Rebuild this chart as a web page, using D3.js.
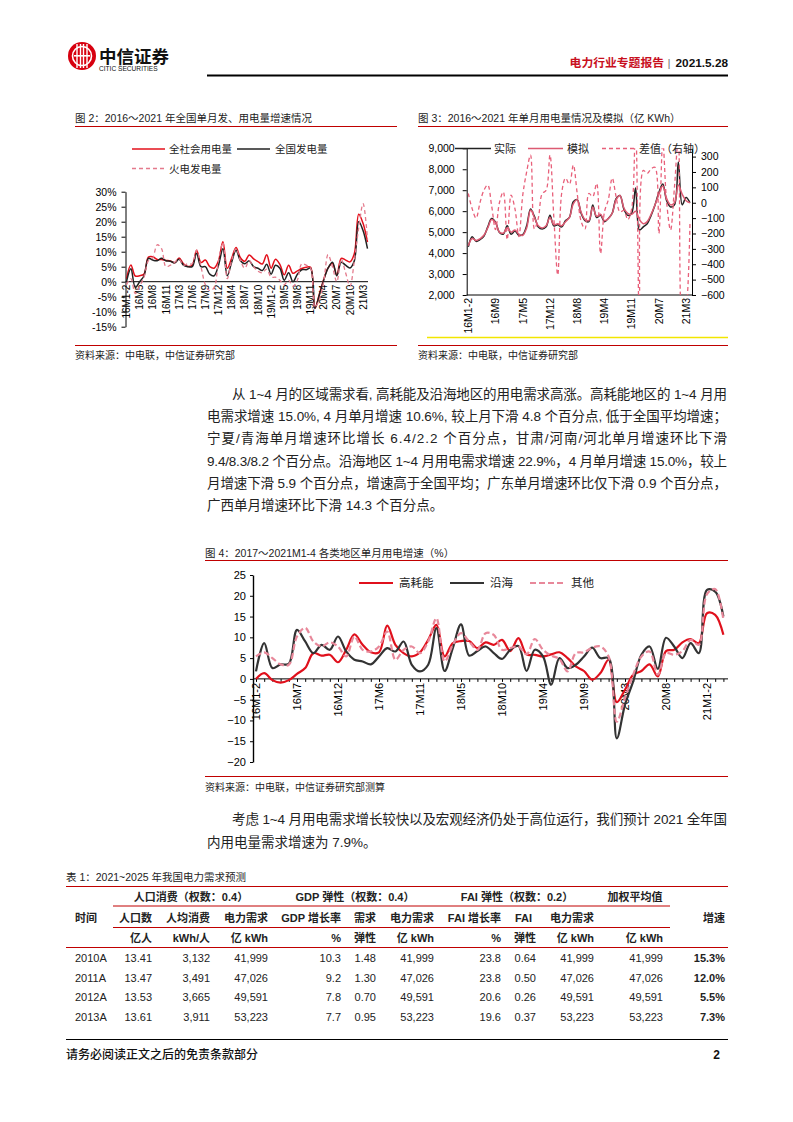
<!DOCTYPE html>
<html>
<head>
<meta charset="utf-8">
<script src="https://cdn.jsdelivr.net/npm/d3@7"></script>
<style>
body { margin: 0; background: #fff; }
svg { display: block; }
</style>
</head>
<body>
<div id="page"></div>
<script>
// ---------- figure 2: monthly YoY growth, %
const fig2Ticks = ["16M1-2", "16M5", "16M8", "16M11", "17M3", "17M6", "17M9", "17M12", "18M4", "18M7",
    "18M10", "19M1-2", "19M5", "19M8", "19M11", "20M4", "20M7", "20M10", "21M3"];
const fig2Total = [1.0, 5.6, 1.9, 2.0, 2.6, 8.2, 8.3, 7.4, 7.4, 7.1, 6.9,
    6.3, 7.9, 6.0, 5.1, 5.5, 10.5, 6.4, 7.2, 5.0, 4.5, 7.0,
    13.3, 4.5, 7.8, 11.4, 8.0, 6.8, 8.9, 7.6, 6.7, 5.9, 9.0,
    4.5, 7.5, 5.8, 2.3, 5.5, 2.8, 3.6, 4.4, 4.8, 4.8,
    -8.8, -4.2, 0.7, 4.6, 6.1, 2.3, 7.8, 7.2, 6.6, 9.4,
    22.5, 19.4, 13.2];
const fig2Gen = [0.0, 4.3, -1.9, 0.0, 2.0, 7.8, 7.2, 7.0, 7.8, 7.0, 6.8,
    6.3, 7.5, 5.5, 5.0, 5.0, 9.5, 5.0, 5.0, 2.5, 2.0, 5.5,
    11.0, 2.0, 6.5, 10.5, 7.0, 6.0, 7.0, 5.0, 4.5, 3.7, 5.8,
    2.5, 5.5, 4.5, 0.5, 3.0, 0.0, 2.5, 4.0, 4.0, 4.5,
    -8.9, -4.5, 0.5, 4.5, 6.5, 2.0, 6.5, 5.5, 4.6, 7.0,
    20.0, 17.0, 11.0];
const fig2Thermal = [-1.0, 1.0, -4.0, -1.5, 1.5, 7.0, 8.0, 12.3, 11.0, 5.0, 5.5,
    6.5, 7.5, 5.5, 6.0, 6.0, 10.5, 5.0, -1.0, -3.0, -2.0, 7.0,
    13.0, 1.0, 7.0, 11.0, 7.0, 4.5, 7.0, 5.0, 3.5, 3.0, 4.2,
    1.5, 1.5, 0.5, -1.0, 0.5, -1.5, 0.5, 6.0, 5.5, 4.5,
    -8.5, -6.0, 0.0, 9.0, 5.0, 0.0, 7.5, 3.0, -1.5, 7.0,
    18.0, 26.0, 14.0];
const fig2YTicks = [-15, -10, -5, 0, 5, 10, 15, 20, 25, 30];

// ---------- figure 3: monthly consumption (亿kWh) and model, difference on right axis
const fig3Ticks = ["16M1-2", "16M9", "17M5", "17M12", "18M8", "19M4", "19M11", "20M7", "21M3"];
const fig3Actual = [4300, 4780, 4560, 4640, 4800, 5250, 5650, 5480, 4980, 4900, 5300,
    4900, 5050, 4850, 4880, 5300, 6100, 5750, 5250, 5150, 5250, 5800,
    5300, 5350, 5250, 5550, 5700, 6450, 6550, 5900, 5550, 5500, 6300,
    5700, 5800, 5500, 5650, 5900, 6600, 6750, 6100, 5800, 5900, 7100,
    5100, 5250, 5400, 5800, 6300, 6900, 7300, 6500, 6200, 6300, 8350,
    6300, 6650, 6400];
const fig3Model = [4350, 4700, 4600, 4680, 4850, 5200, 5600, 5450, 5000, 4950, 5200,
    5000, 5100, 4900, 4850, 5200, 6050, 5700, 5300, 5200, 5300, 5700,
    5350, 5400, 5300, 5500, 5700, 6350, 6550, 5950, 5600, 5550, 6200,
    5750, 5850, 5550, 5650, 5900, 6550, 6750, 6150, 5900, 5850, 6000,
    5600, 5400, 5500, 5850, 6300, 6800, 7200, 6600, 6300, 6400, 7250,
    6800, 6500, 6400];
const fig3Diff = [60, -40, -100, 0, 80, 115, -20, -175, 0, 70, -240,
    50, -40, -220, 50, 200, 310, -170, -100, 60, 80, 310,
    -100, -470, 60, 160, 120, 245, 60, -120, -170, 60, 40,
    125, -330, -60, 20, 160, 40, -60, -50, -110, -40, 500,
    -800, 210, 190, 220, 230, -200, 400, 0, -177, 100, 420,
    -800, -700, -120];
const fig3LeftTicks = [2000, 3000, 4000, 5000, 6000, 7000, 8000, 9000];
const fig3RightTicks = [-600, -500, -400, -300, -200, -100, 0, 100, 200, 300];

// ---------- figure 4: regional monthly growth, %
const fig4Ticks = ["16M1-2", "16M7", "16M12", "17M6", "17M11", "18M5", "18M10", "19M4", "19M9",
    "20M3", "20M8", "21M1-2"];
const fig4High = [0.0, 1.4, -0.3, -0.9, -0.3, 1.2, 2.6, 6.2, 5.6, 5.8, 4.0,
    7.0, 10.7, 8.2, 6.4, 6.4, 12.8, 8.2, 6.2, 5.4, 6.4, 9.4,
    13.0, 5.4, 8.6, 9.1, 9.1, 7.4, 8.8, 8.2, 9.4, 6.7, 9.8,
    5.9, 5.8, 5.4, 5.9, 6.4, 5.0, 3.0, 1.9, -0.2, 1.4, 4.6,
    -5.6, -2.6, 1.0, 1.9, 3.5, 0.6, 6.7, 7.0, 8.8, 9.6, 8.6,
    15.8, 15.4, 10.6];
const fig4Coast = [1.8, 8.6, 2.6, 3.5, 3.6, 11.8, 9.0, 6.2, 8.2, 7.0, 10.2,
    6.6, 4.6, 4.2, 3.5, 5.4, 7.4, 6.6, 9.0, 3.4, 1.8, 3.4,
    12.2, 1.9, 7.4, 13.1, 5.6, 6.7, 7.8, 6.2, 4.8, 7.0, 7.9,
    1.9, 7.0, 5.4, -1.4, 5.0, 2.6, 3.4, 5.4, 7.5, 5.0, 5.0,
    -14.3, -6.2, -0.6, 5.8, 7.8, 2.4, 9.9, 7.8, 5.0, 8.6, 6.2,
    21.4, 21.0, 15.0];
const fig4Other = [5.4, 6.4, 5.0, 3.5, 3.4, 10.2, 12.3, 9.0, 7.8, 8.8, 7.8,
    5.4, 10.2, 7.0, 6.6, 7.8, 11.4, 4.6, 7.0, 7.8, 6.2, 9.0,
    14.6, 4.2, 8.2, 11.0, 9.0, 7.0, 11.0, 10.6, 7.0, 7.4, 7.8,
    5.9, 9.6, 7.0, 5.6, 4.8, 1.8, 6.2, 6.4, 7.5, 7.8, 5.4,
    -10.3, -4.6, 1.0, 5.4, 6.6, 1.0, 6.2, 5.8, 6.7, 9.4, 8.2,
    20.4, 21.6, 14.2];
const fig4YTicks = [-20, -15, -10, -5, 0, 5, 10, 15, 20, 25];

// ---------- table 1
const tblYears = ["2010A", "2011A", "2012A", "2013A"];
const tblPop = [13.41, 13.47, 13.53, 13.61];
const tblPerCap = [3132, 3491, 3665, 3911];
const tblPopDemand = [41999, 47026, 49591, 53223];
const tblGdp = [10.3, 9.2, 7.8, 7.7];
const tblGdpElast = [1.48, 1.30, 0.70, 0.95];
const tblGdpDemand = [41999, 47026, 49591, 53223];
const tblFai = [23.8, 23.8, 20.6, 19.6];
const tblFaiElast = [0.64, 0.50, 0.26, 0.37];
const tblFaiDemand = [41999, 47026, 49591, 53223];
const tblWeighted = [41999, 47026, 49591, 53223];
const tblGrowth = [0.153, 0.120, 0.055, 0.073];

// ---------- text
const para1 = [
    "从 1~4 月的区域需求看, 高耗能及沿海地区的用电需求高涨。高耗能地区的 1~4 月用",
    "电需求增速 15.0%, 4 月单月增速 10.6%, 较上月下滑 4.8 个百分点, 低于全国平均增速；",
    "宁夏/青海单月增速环比增长 6.4/2.2 个百分点，甘肃/河南/河北单月增速环比下滑",
    "9.4/8.3/8.2 个百分点。沿海地区 1~4 月用电需求增速 22.9%，4 月单月增速 15.0%，较上",
    "月增速下滑 5.9 个百分点，增速高于全国平均；广东单月增速环比仅下滑 0.9 个百分点，",
    "广西单月增速环比下滑 14.3 个百分点。"
];
const para2 = [
    "考虑 1~4 月用电需求增长较快以及宏观经济仍处于高位运行，我们预计 2021 全年国",
    "内用电量需求增速为 7.9%。"
];

const FONT = '"Liberation Sans", "Noto Sans CJK SC", sans-serif';
const RULE = "#c00000";

var svg = d3.select("#page").append("svg")
    .attr("width", 793)
    .attr("height", 1122)
    .attr("font-family", FONT);

svg.append("rect").attr("width", 793).attr("height", 1122).attr("fill", "#fff");

function label(g, x, y, s, size, opts) {
    opts = opts || {};
    return g.append("text")
        .attr("x", x).attr("y", y)
        .attr("font-size", size)
        .attr("font-weight", opts.weight || "normal")
        .attr("text-anchor", opts.anchor || "start")
        .attr("fill", opts.fill || "#222")
        .text(s);
}

function hline(g, x1, x2, y, color, w) {
    g.append("line").attr("x1", x1).attr("x2", x2).attr("y1", y).attr("y2", y)
        .attr("stroke", color).attr("stroke-width", w || 1);
}

function styleAxis(g, size) {
    g.attr("font-family", FONT).attr("font-size", size);
    g.selectAll("path.domain").attr("stroke", "#000");
    g.selectAll(".tick line").attr("stroke", "#000");
    g.selectAll(".tick text").attr("fill", "#000");
}

function rotatedLabels(g, labels, step, xs, y, size) {
    g.selectAll(null).data(labels).join("text")
        .attr("transform", (d, k) => "translate(" + (xs(k * step) + size * 0.36) + "," + y + ") rotate(-90)")
        .attr("text-anchor", "end")
        .attr("font-size", size)
        .attr("fill", "#000")
        .text(d => d);
}

// ---------- page header
var head = svg.append("g");
head.append("circle").attr("cx", 82).attr("cy", 56).attr("r", 14).attr("fill", "#d7000f");
head.append("circle").attr("cx", 82).attr("cy", 56).attr("r", 9.5)
    .attr("fill", "none").attr("stroke", "#fff").attr("stroke-width", 1.6);
[-5, -1.5, 1.5, 5].forEach(dx => {
    head.append("rect").attr("x", 82 + dx - 0.7).attr("y", 44).attr("width", 1.4).attr("height", 24).attr("fill", "#fff");
});
head.append("rect").attr("x", 74).attr("y", 55).attr("width", 16).attr("height", 1.6).attr("fill", "#fff");
label(head, 99, 63, "中信证券", 17.5, { weight: "bold", fill: "#111" });
label(head, 99, 71, "CITIC SECURITIES", 6.6, { fill: "#111" });
label(head, 664, 67, "电力行业专题报告", 11.8, { weight: "bold", fill: "#c8101e", anchor: "end" });
label(head, 669, 67, "|", 11.8, { fill: "#777", anchor: "middle" });
label(head, 728, 67, "2021.5.28", 11.8, { weight: "bold", fill: "#111", anchor: "end" });
hline(head, 207, 728, 75.5, "#000", 2);

// ---------- figure 2
var f2 = svg.append("g");
label(f2, 75, 122, "图 2：2016～2021 年全国单月发、用电量增速情况", 10.5);
hline(f2, 75, 397, 126.5, RULE, 1);

var x2 = d3.scaleLinear().domain([0, fig2Total.length - 1]).range([126.5, 367.5]);
var y2 = d3.scaleLinear().domain([-15, 30]).range([326.7, 191.7]);

var y2Axis = f2.append("g").attr("transform", "translate(125.5,0)")
    .call(d3.axisLeft(y2).tickValues(fig2YTicks).tickSize(4).tickSizeOuter(0).tickPadding(5)
        .tickFormat(d => d + "%"));
styleAxis(y2Axis, 10.5);
hline(f2, 125.5, 368, y2(0), "#000", 1);
rotatedLabels(f2, fig2Ticks, 3, x2, y2(0) + 3, 10);

var line2 = d3.line().x((d, i) => x2(i)).y(d => y2(d)).curve(d3.curveCatmullRom.alpha(0.5));
f2.append("path").attr("d", line2(fig2Total)).attr("fill", "none").attr("stroke", "#e3101b").attr("stroke-width", 1.5);
f2.append("path").attr("d", line2(fig2Gen)).attr("fill", "none").attr("stroke", "#222").attr("stroke-width", 1.5);
f2.append("path").attr("d", line2(fig2Thermal)).attr("fill", "none").attr("stroke", "#e47a8c")
    .attr("stroke-width", 1.3).attr("stroke-dasharray", "4,3");

// legend
hline(f2, 132, 165, 149, "#e3101b", 1.6);
label(f2, 169, 153, "全社会用电量", 10.5);
hline(f2, 237, 270, 149, "#222", 1.6);
label(f2, 275, 153, "全国发电量", 10.5);
f2.append("line").attr("x1", 132).attr("x2", 165).attr("y1", 168.5).attr("y2", 168.5)
    .attr("stroke", "#e47a8c").attr("stroke-width", 1.3).attr("stroke-dasharray", "4,3");
label(f2, 169, 172.5, "火电发电量", 10.5);

hline(f2, 75, 397, 345.5, RULE, 1);
label(f2, 75, 359, "资料来源：中电联，中信证券研究部", 10);

// ---------- figure 3
var f3 = svg.append("g");
label(f3, 418, 122, "图 3：2016～2021 年单月用电量情况及模拟（亿 KWh）", 10.5);
hline(f3, 418, 728, 126.5, RULE, 1);

var x3 = d3.scaleLinear().domain([0, fig3Actual.length - 1]).range([468.3, 690]);
var y3L = d3.scaleLinear().domain([2000, 9000]).range([295, 148.3]);
var y3R = d3.scaleLinear().domain([-600, 354]).range([295, 148.3]);

var y3LAxis = f3.append("g").attr("transform", "translate(466.7,0)")
    .call(d3.axisLeft(y3L).tickValues(fig3LeftTicks).tickSize(4).tickSizeOuter(0).tickPadding(8)
        .tickFormat(d3.format(",")));
styleAxis(y3LAxis, 10.5);
var y3RAxis = f3.append("g").attr("transform", "translate(692,0)")
    .call(d3.axisRight(y3R).tickValues(fig3RightTicks).tickSize(4).tickSizeOuter(0).tickPadding(5));
styleAxis(y3RAxis, 10.5);
hline(f3, 466.7, 692, 295, "#000", 1);
rotatedLabels(f3, fig3Ticks, 7, x3, 298, 10.5);

f3.append("clipPath").attr("id", "clip3").append("rect")
    .attr("x", 466.7).attr("y", 148.3).attr("width", 225.3).attr("height", 146.7);

var line3L = d3.line().x((d, i) => x3(i)).y(d => y3L(d)).curve(d3.curveCatmullRom.alpha(0.5));
var line3R = d3.line().x((d, i) => x3(i)).y(d => y3R(d)).curve(d3.curveCatmullRom.alpha(0.5));
f3.append("path").attr("d", line3L(fig3Actual)).attr("fill", "none").attr("stroke", "#222").attr("stroke-width", 1.5);
f3.append("path").attr("d", line3L(fig3Model)).attr("fill", "none").attr("stroke", "#dc5a72").attr("stroke-width", 1.5);
f3.append("path").attr("d", line3R(fig3Diff)).attr("fill", "none").attr("stroke", "#e8607a")
    .attr("stroke-width", 1.3).attr("stroke-dasharray", "4,3").attr("clip-path", "url(#clip3)");

// legend
hline(f3, 455, 491, 148.5, "#222", 1.5);
label(f3, 494, 152.5, "实际", 11);
hline(f3, 528, 563, 148.5, "#dc5a72", 1.5);
label(f3, 567, 152.5, "模拟", 11);
f3.append("line").attr("x1", 602).attr("x2", 637).attr("y1", 148.5).attr("y2", 148.5)
    .attr("stroke", "#e8607a").attr("stroke-width", 1.3).attr("stroke-dasharray", "4,3");
label(f3, 639, 152.5, "差值（右轴）", 11);

hline(f3, 427, 728, 337.5, "#f2e600", 1.5);
hline(f3, 418, 728, 345.5, RULE, 1);
label(f3, 418, 359, "资料来源：中电联，中信证券研究部", 10);

// ---------- body text
var body = svg.append("g");
para1.forEach((s, k) => {
    var x0 = k === 0 ? 232 : 207;
    var t = label(body, x0, 399 + k * 22.2, s, 13.5);
    if (k < para1.length - 1) t.attr("textLength", 727 - x0).attr("lengthAdjust", "spacing");
});

// ---------- figure 4
var f4 = svg.append("g");
label(f4, 205, 557, "图 4：2017～2021M1-4 各类地区单月用电增速（%）", 10.5);
hline(f4, 205, 728, 560.5, RULE, 1);

var x4 = d3.scaleLinear().domain([0, fig4High.length - 1]).range([256, 723.4]);
var y4 = d3.scaleLinear().domain([-20, 25]).range([762, 575]);

var y4Axis = f4.append("g").attr("transform", "translate(253,0)")
    .call(d3.axisLeft(y4).tickValues(fig4YTicks).tickSize(3).tickSizeOuter(0).tickPadding(4));
styleAxis(y4Axis, 11);
y4Axis.select("path.domain").attr("stroke-width", 1.4);

var x4Axis = f4.append("g").attr("transform", "translate(0," + y4(0) + ")")
    .call(d3.axisBottom(x4).tickValues(fig4High.map((d, i) => i)).tickSize(3).tickSizeOuter(0).tickFormat(""));
styleAxis(x4Axis, 11);
x4Axis.select("path.domain").remove();
hline(f4, 253, 728, y4(0), "#000", 1);
rotatedLabels(f4, fig4Ticks, 5, x4, y4(0) + 4, 11);

var line4 = d3.line().x((d, i) => x4(i)).y(d => y4(d)).curve(d3.curveCatmullRom.alpha(0.5));
f4.append("path").attr("d", line4(fig4High)).attr("fill", "none").attr("stroke", "#e0101c").attr("stroke-width", 2.2);
f4.append("path").attr("d", line4(fig4Coast)).attr("fill", "none").attr("stroke", "#333").attr("stroke-width", 2.2);
f4.append("path").attr("d", line4(fig4Other)).attr("fill", "none").attr("stroke", "#e8889a")
    .attr("stroke-width", 2.2).attr("stroke-dasharray", "6,3");

// legend
hline(f4, 359, 393, 583, "#e0101c", 2.2);
label(f4, 399, 587, "高耗能", 11.5);
hline(f4, 450, 484, 583, "#333", 2.2);
label(f4, 490, 587, "沿海", 11.5);
f4.append("line").attr("x1", 530).attr("x2", 566).attr("y1", 583).attr("y2", 583)
    .attr("stroke", "#e8889a").attr("stroke-width", 2.2).attr("stroke-dasharray", "6,3");
label(f4, 571, 587, "其他", 11.5);

hline(f4, 205, 728, 776.5, RULE, 1);
label(f4, 205, 791, "资料来源：中电联，中信证券研究部测算", 10);

para2.forEach((s, k) => {
    var x0 = k === 0 ? 232 : 207;
    var t = label(body, x0, 824 + k * 22.5, s, 13.5);
    if (k < para2.length - 1) t.attr("textLength", 727 - x0).attr("lengthAdjust", "spacing");
});

// ---------- table 1
var tb = svg.append("g");
label(tb, 66, 881, "表 1：2021~2025 年我国电力需求预测", 10.5);
hline(tb, 66, 728, 886.5, RULE, 1);

var colX = [75, 152, 210, 268, 341, 376, 434, 501, 536, 594, 663, 725];

[["人口消费（权数：0.4）", 191], ["GDP 弹性（权数：0.4）", 355], ["FAI 弹性（权数：0.2）", 517], ["加权平均值", 635]]
    .forEach(h => label(tb, h[1], 901, h[0], 11, { weight: "bold", anchor: "middle" }));
hline(tb, 113, 670, 906, RULE, 1);

label(tb, 75, 922, "时间", 11, { weight: "bold" });
label(tb, 725, 922, "增速", 11, { weight: "bold", anchor: "end" });
var head2 = ["人口数", "人均消费", "电力需求", "GDP 增长率", "需求", "电力需求", "FAI 增长率", "", "电力需求"];
head2.forEach((s, k) => label(tb, colX[k + 1], 922, s, 11, { weight: "bold", anchor: "end" }));
label(tb, 515, 922, "FAI", 11, { weight: "bold" });
hline(tb, 113, 670, 927.5, RULE, 1);

var head3 = ["亿人", "kWh/人", "亿 kWh", "%", "弹性", "亿 kWh", "%", "弹性", "亿 kWh", "亿 kWh"];
head3.forEach((s, k) => label(tb, colX[k + 1], 942, s, 11, { weight: "bold", anchor: "end" }));
hline(tb, 66, 728, 947.5, RULE, 1);

var f2d = d3.format(".2f"), fth = d3.format(","), f1d = d3.format(".1f"), fpct = d3.format(".1%");
tblYears.forEach((yr, r) => {
    var y = 962 + r * 19.6;
    var cells = [fth(tblPerCap[r]), fth(tblPopDemand[r]), f1d(tblGdp[r]), f2d(tblGdpElast[r]),
        fth(tblGdpDemand[r]), f1d(tblFai[r]), f2d(tblFaiElast[r]), fth(tblFaiDemand[r]), fth(tblWeighted[r])];
    label(tb, colX[0], y, yr, 11);
    label(tb, colX[1], y, f2d(tblPop[r]), 11, { anchor: "end" });
    cells.forEach((s, k) => label(tb, colX[k + 2], y, s, 11, { anchor: "end" }));
    label(tb, colX[11], y, fpct(tblGrowth[r]), 11, { anchor: "end", weight: "bold" });
});

// ---------- footer
var foot = svg.append("g");
hline(foot, 66, 728, 1039.5, "#000", 1);
label(foot, 66, 1059, "请务必阅读正文之后的免责条款部分", 12, { weight: 500, fill: "#111" });
label(foot, 720, 1059, "2", 12, { weight: "bold", fill: "#111", anchor: "end" });
</script>
</body>
</html>
